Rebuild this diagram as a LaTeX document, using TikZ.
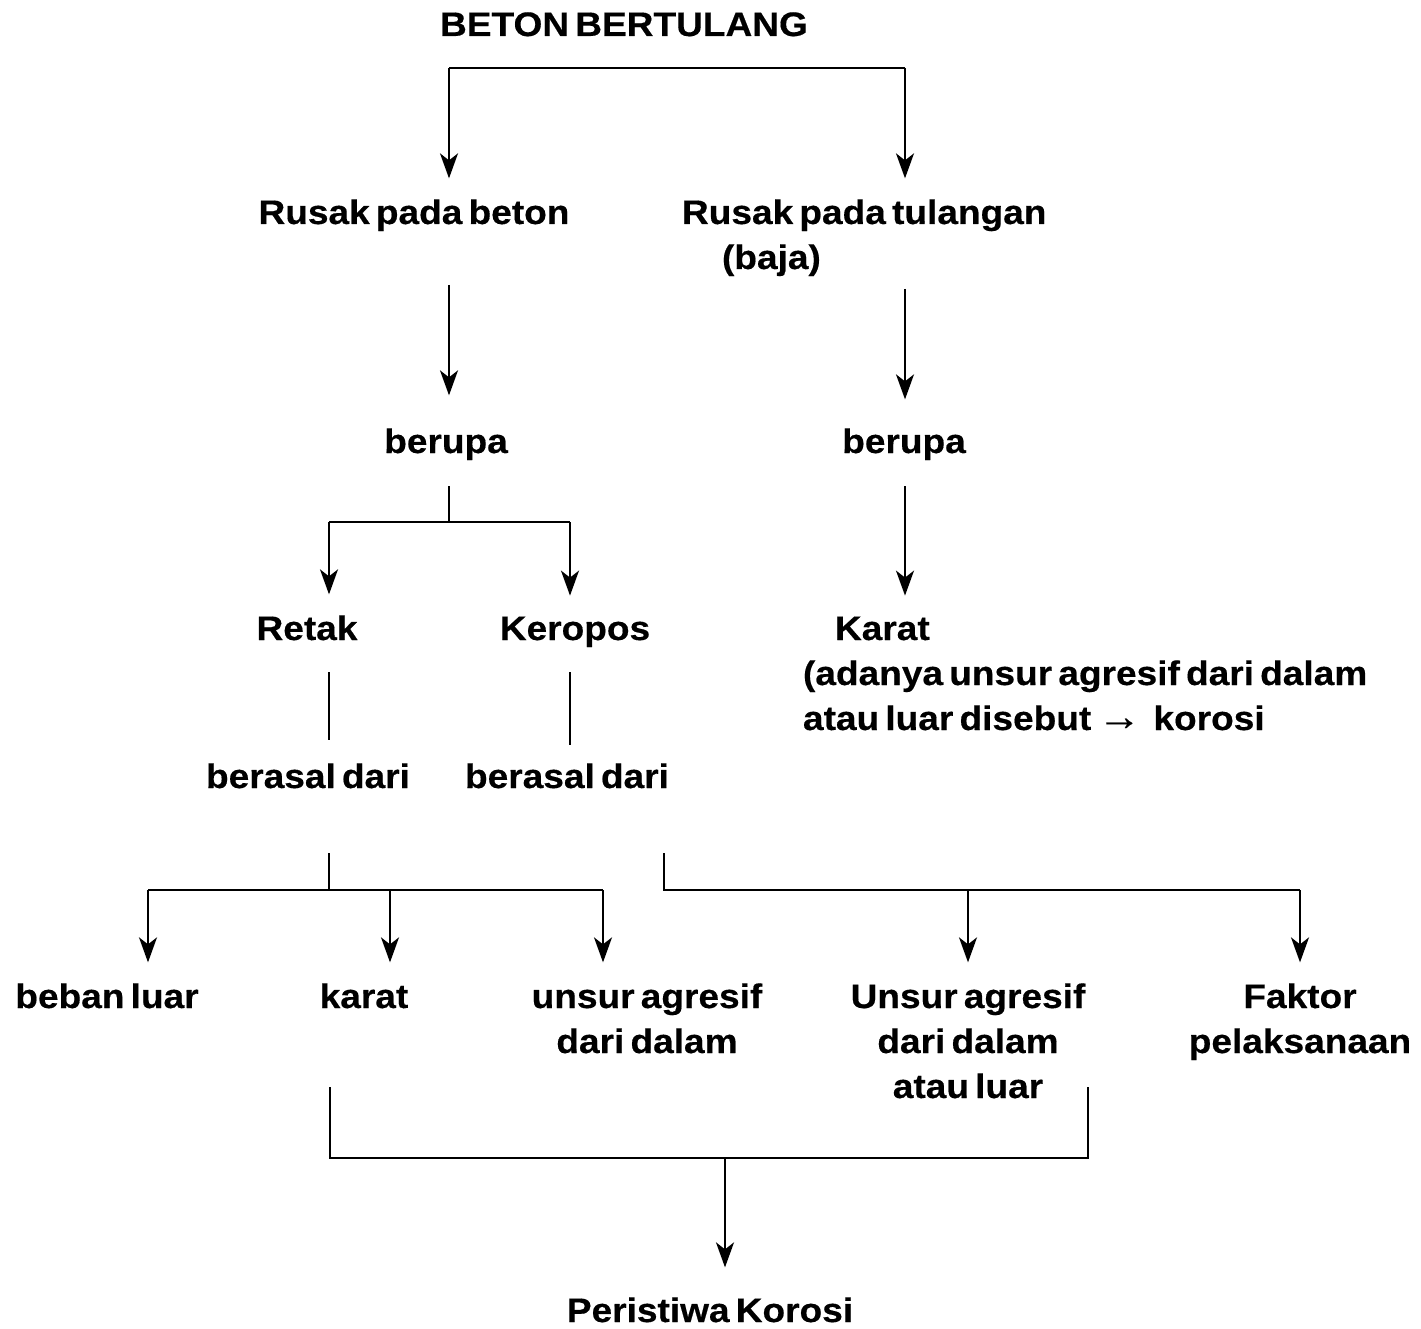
\documentclass[tikz,border=0pt]{standalone}
\usepackage{fontspec}
\setmainfont{Liberation Sans}[FakeStretch=1.09, WordSpace=0.6, BoldFeatures={FakeBold=0.4}]
\usetikzlibrary{arrows.meta, positioning}

\begin{document}
\begin{tikzpicture}[x=1pt, y=-1pt, font=\fontsize{34}{45}\selectfont\bfseries,
          lbl/.style={inner sep=0pt, outer xsep=0pt, outer ysep=21pt, anchor=base, align=center},
          line/.style={line width=2pt},
          arrow/.style={line width=2pt, -{Stealth[length=25pt, width=18pt, inset=7pt]}}]
        \useasboundingbox (0,0) rectangle (1421,1329);

        % base of a node with several lines = base of its last line
        \node [lbl] (beton) at (624,36) {BETON BERTULANG};
        \node [lbl] (rbeton) at (414,224) {Rusak pada beton};
        \node [lbl, anchor=base west, align=left] (rtul) at (682,269) {Rusak pada tulangan\\\hspace*{40pt}(baja)};
        \node [lbl] (berupa1) at (446,453) {berupa};
        \node [lbl] (berupa2) at (904,453) {berupa};
        \node [lbl] (retak) at (307,640) {Retak};
        \node [lbl] (keropos) at (575,640) {Keropos};
        \node [lbl, anchor=base west, align=left] (karat) at (803,730) {\hspace*{32pt}Karat\\(adanya unsur agresif dari dalam\\atau luar disebut {\fontsize{40}{45}\selectfont →} \ korosi};
        \node [lbl] (asal1) at (308,788) {berasal dari};
        \node [lbl] (asal2) at (567,788) {berasal dari};
        \node [lbl] (beban) at (107,1008) {beban luar};
        \node [lbl] (karat2) at (364,1008) {karat};
        \node [lbl] (unsur1) at (647,1053) {unsur agresif\\dari dalam};
        \node [lbl] (unsur2) at (968,1098) {Unsur agresif\\dari dalam\\atau luar};
        \node [lbl] (faktor) at (1300,1053) {Faktor\\pelaksanaan};
        \node [lbl] (korosi) at (710,1322) {Peristiwa Korosi};

        % bends and free ends
        \coordinate (top1) at (449,68);
        \coordinate (top2) at (905,68);
        \coordinate (rb) at (449,285);
        \coordinate (rt) at (905,289);
        \coordinate (bp1) at (449,486);
        \coordinate (bp1j) at (449,522);
        \coordinate (bp2) at (905,486);
        \coordinate (rk1) at (329,672);
        \coordinate (rk2) at (329,740);
        \coordinate (kp1) at (570,672);
        \coordinate (kp2) at (570,745);
        \coordinate (as1) at (329,853);
        \coordinate (as1j) at (329,890);
        \coordinate (as2) at (664,853);
        \coordinate (as2j) at (664,890);
        \coordinate (bl) at (330,1087);
        \coordinate (br) at (1088,1087);
        \coordinate (bm) at (725,1158);

        \draw [line] (top1) -- (top2);
        \draw [arrow] (top1) -- (top1 |- rbeton.north);
        \draw [arrow] (top2) -- (top2 |- rtul.north);
        \draw [arrow, shorten >=12pt] (rb) -- (rb |- berupa1.north);
        \draw [arrow, shorten >=8pt] (rt) -- (rt |- berupa2.north);

        \draw [line] (bp1) -- (bp1j);
        \draw [line] (bp1j -| rk1) -- (bp1j -| kp1);
        \draw [arrow] (bp1j -| rk1) -- (rk1 |- retak.north);
        \draw [arrow] (bp1j -| kp1) -- (kp1 |- keropos.north);
        \draw [arrow] (bp2) -- (bp2 |- karat.north);

        \draw [line] (rk1) -- (rk2);
        \draw [line] (kp1) -- (kp2);

        \draw [line] (as1) -- (as1j);
        \draw [line] (as1j -| 148,0) -- (as1j -| 603,0);
        \draw [arrow] (as1j -| 148,0) -- (beban.north -| 148,0);
        \draw [arrow] (as1j -| 390,0) -- (karat2.north -| 390,0);
        \draw [arrow] (as1j -| 603,0) -- (unsur1.north -| 603,0);
        \draw [line] (as2) -- (as2j) -- (as2j -| faktor);
        \draw [arrow] (as2j -| unsur2) -- (unsur2.north);
        \draw [arrow] (as2j -| faktor) -- (faktor.north);

        \draw [line] (bl) -- (bl |- bm) -- (br |- bm) -- (br);
        \draw [arrow, shorten >=9pt] (bm) -- (bm |- korosi.north);
      \end{tikzpicture}
\end{document}
